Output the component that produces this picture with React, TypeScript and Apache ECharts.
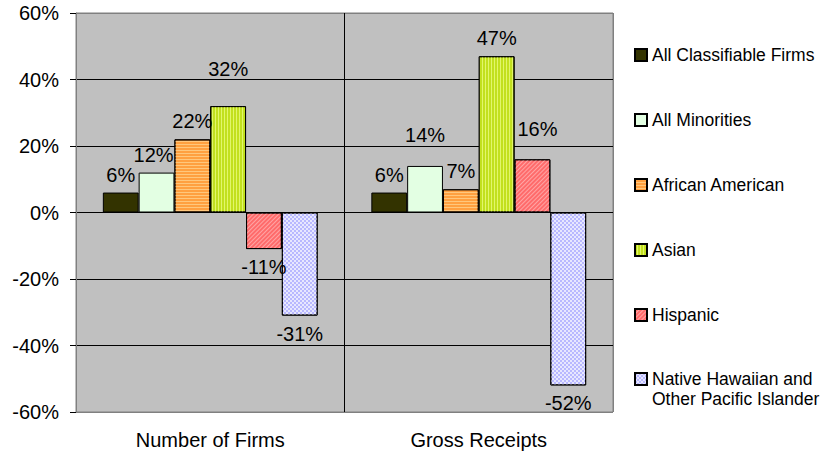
import React, { useEffect, useRef } from "react";
import * as echarts from "echarts";

const categories = ["Number of Firms", "Gross Receipts"];
const seriesNames = [
  "All Classifiable Firms",
  "All Minorities",
  "African American",
  "Asian",
  "Hispanic",
  "Native Hawaiian and\nOther Pacific Islander",
];
const allClassifiable = [6, 6];
const allMinorities = [12, 14];
const africanAmerican = [22, 7];
const asian = [32, 47];
const hispanic = [-11, 16];
const nativeHawaiian = [-31, -52];
const yTicks = { min: -60, max: 60, interval: 20 };

const seriesValues = [allClassifiable, allMinorities, africanAmerican, asian, hispanic, nativeHawaiian];

const colors = ["#333300", "#E3FFE3", "#FFA040", "#C2E01E", "#FF6B6B", "#B8B8FF"];
const decals: any[] = [
  null,
  null,
  { symbol: "rect", color: "rgba(255,215,150,0.7)", dashArrayX: [1, 0], dashArrayY: [1, 2], rotation: 0 },
  { symbol: "rect", color: "rgba(240,255,140,0.7)", dashArrayX: [1, 0], dashArrayY: [1, 2], rotation: Math.PI / 2 },
  { symbol: "rect", color: "rgba(255,190,190,0.7)", dashArrayX: [1, 0], dashArrayY: [1, 2], rotation: -Math.PI / 4 },
  { symbol: "rect", color: "rgba(240,240,255,0.85)", dashArrayX: [[2, 2], [0, 2, 2, 0]], dashArrayY: [2, 0], rotation: 0 },
];
// label nudges (styling) per series / category
const labelNudge: Record<number, [number, number][]> = {
  1: [[-3, 0], [0, -13]],
  3: [[0, -19], [0, 0]],
  4: [[0, 0], [5, -12]],
};

const FONT = "'Liberation Sans', Arial, sans-serif";

export default function App() {
  const ref = useRef<HTMLDivElement>(null);
  useEffect(() => {
    if (!ref.current) return;
    const chart = echarts.init(ref.current, undefined, { renderer: "svg" });
    const series = seriesNames.map((name, si) => ({
      name,
      type: "bar",
      barGap: "0%",
      barCategoryGap: "20%",
      itemStyle: {
        color: colors[si],
        borderColor: "#000",
        borderWidth: 1,
        ...(decals[si] ? { decal: decals[si] } : {}),
      },
      data: seriesValues[si].map((v, ci) => {
        const nudge = labelNudge[si]?.[ci] ?? [0, 0];
        return {
          value: v,
          label: {
            position: v >= 0 ? "top" : "bottom",
            offset: nudge,
          },
        };
      }),
      label: {
        show: true,
        distance: 8,
        formatter: "{c}%",
        color: "#000",
        fontSize: 20,
        fontFamily: FONT,
      },
    }));
    chart.setOption({
      animation: false,
      backgroundColor: "#fff",
      textStyle: { fontFamily: FONT },
      grid: {
        left: 76,
        right: 220,
        top: 13,
        bottom: 43,
        show: true,
        backgroundColor: "#C0C0C0",
        borderColor: "#808080",
        borderWidth: 1,
      },
      legend: [
        {
          orient: "vertical",
          left: 634,
          top: 45,
          padding: 0,
          itemWidth: 12,
          itemHeight: 12,
          itemGap: 45,
          icon: "rect",
          data: seriesNames.slice(0, 5),
          textStyle: { fontSize: 17.5, lineHeight: 20, color: "#000", fontFamily: FONT },
          selectedMode: false,
        },
        {
          orient: "vertical",
          left: 634,
          top: 349,
          padding: 0,
          itemWidth: 12,
          itemHeight: 12,
          icon: "rect",
          data: seriesNames.slice(5),
          formatter: (n: string) => " \n" + n,
          textStyle: {
            fontSize: 17.5,
            lineHeight: 20,
            color: "#000",
            fontFamily: FONT,
          },
          selectedMode: false,
        },
      ],
      xAxis: {
        type: "category",
        data: categories,
        axisLine: { show: false },
        axisTick: { show: false },
        splitLine: {
          show: true,
          interval: 0,
          lineStyle: { color: ["#808080", "#000", "#808080"], width: 1 },
        },
        axisLabel: { fontSize: 20, color: "#000", margin: 18, fontFamily: FONT },
      },
      yAxis: {
        type: "value",
        min: yTicks.min,
        max: yTicks.max,
        interval: yTicks.interval,
        axisLine: { show: true, lineStyle: { color: "#808080" } },
        axisTick: { show: true, length: 6, lineStyle: { color: "#000" } },
        splitLine: {
          show: true,
          lineStyle: {
            color: ["#808080", "#000", "#000", "#000", "#000", "#000", "#808080"],
            width: 1,
          },
        },
        axisLabel: {
          formatter: "{value}%",
          fontSize: 20,
          color: "#000",
          margin: 17,
          fontFamily: FONT,
        },
      },
      series,
    });
    return () => chart.dispose();
  }, []);
  return (
    <div
      ref={ref}
      style={{ position: "fixed", left: 0, top: 0, width: 833, height: 455 }}
    />
  );
}
